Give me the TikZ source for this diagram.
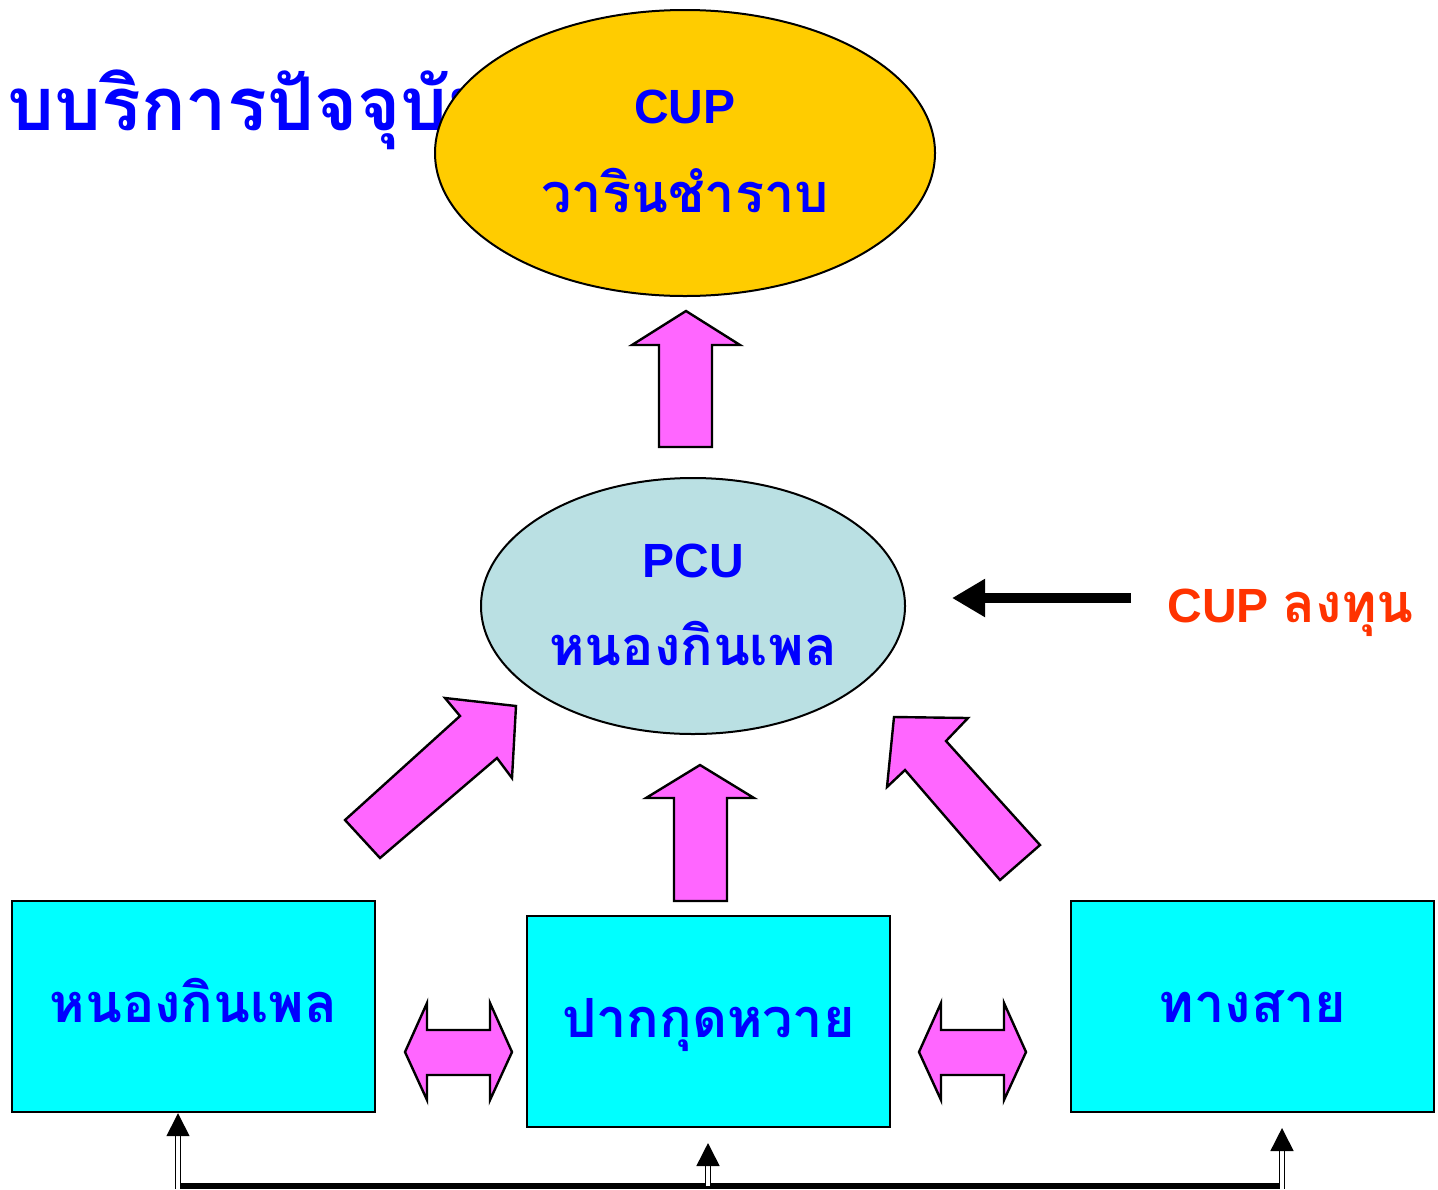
\documentclass[tikz,border=0pt]{standalone}
\usepackage{fontspec}
\setmainfont{Liberation Sans}
\newfontfamily\thai[Script=Thai]{Loma}
\usetikzlibrary{shapes.geometric,arrows.meta}
\definecolor{tblue}{HTML}{0000FF}
\definecolor{torange}{HTML}{FF3300}
\definecolor{gold}{HTML}{FFCC00}
\definecolor{pale}{HTML}{BAE0E3}
\definecolor{cyanbox}{HTML}{00FFFF}
\definecolor{pinkarrow}{HTML}{FF66FF}
\tikzset{
  blockarrow/.style={fill=pinkarrow,draw=black,line width=1.2pt,line join=miter},
  boxnode/.style={rectangle,draw=black,line width=1.2pt,fill=cyanbox,minimum width=181.5pt,minimum height=105.5pt,inner sep=0pt},
  ovalnode/.style={ellipse,draw=black,line width=1pt,inner sep=0pt},
  latinlbl/.style={text=tblue,font=\fontsize{24}{28}\selectfont\bfseries,anchor=base,inner sep=0pt},
  thailbl/.style={text=tblue,font=\thai\fontsize{27}{32}\selectfont\bfseries,anchor=base,inner sep=0pt},
  feed/.style={double=white,draw=black,line width=0.8pt,double distance=1.8pt,-{Triangle[length=11.5pt,width=11.5pt]}},
}
\begin{document}
\begin{tikzpicture}[x=0.5pt,y=-0.5pt]
\useasboundingbox (0,0) rectangle (1438,1189);
% title (partly covered by the ellipse)
\node[anchor=base west,inner sep=0pt,text=tblue,font=\thai\fontsize{37}{40}\selectfont\bfseries] (title) at (7,130) {บบริการปัจจุบัน};
% top ellipse
\node[ovalnode,fill=gold,minimum width=250pt,minimum height=143pt] (cup) at (685,153) {};
\node[latinlbl] (cupA) at (685,123) {CUP};
\node[thailbl] (cupB) at (685,212) {วารินชำราบ};
% arrow PCU -> CUP
\draw[blockarrow] (659,447) -- (659,345) -- (632,345) -- (686,311) -- (740,345) -- (712,345) -- (712,447) -- cycle;
% PCU ellipse
\node[ovalnode,fill=pale,minimum width=212pt,minimum height=128pt] (pcu) at (693,606) {};
\node[latinlbl] (pcuA) at (693,577) {PCU};
\node[thailbl] (pcuB) at (693,665) {หนองกินเพล};
% CUP invests
\coordinate (invtail) at (1131,598);
\coordinate (invtip) at (952,598);
\draw[line width=5pt,-{Triangle[length=16.5pt,width=18pt]}] (invtail) -- (invtip);
\node[anchor=base west,inner sep=0pt,text=torange,font=\fontsize{24}{28}\selectfont\bfseries] (invest) at (1167,622) {CUP {\thai\fontsize{27}{32}\selectfont ลงทุน}};
% diagonal and vertical block arrows to PCU
\draw[blockarrow] (345,820) -- (460,716) -- (445,698) -- (516,706) -- (512,778) -- (497,758) -- (380,858) -- cycle;
\draw[blockarrow] (674,901) -- (674,798) -- (646,798) -- (700,765) -- (754,798) -- (727,798) -- (727,901) -- cycle;
\draw[blockarrow] (1040,845) -- (946,741) -- (968,718) -- (894,717) -- (887,787) -- (905,770) -- (1000,880) -- cycle;
% boxes
\node[boxnode] (b1) at (193.5,1006.5) {};
\node[thailbl] (b1t) at (193.5,1022) {หนองกินเพล};
\node[boxnode] (b2) at (708.5,1021.5) {};
\node[thailbl] (b2t) at (708.5,1037) {ปากกุดหวาย};
\node[boxnode] (b3) at (1252.5,1006.5) {};
\node[thailbl] (b3t) at (1252.5,1022) {ทางสาย};
% double-headed block arrows
\draw[blockarrow] (405,1052) -- (427,1003) -- (427,1030) -- (490,1030) -- (490,1003) -- (512,1052) -- (490,1100) -- (490,1075) -- (427,1075) -- (427,1100) -- cycle;
\draw[blockarrow] (919,1052) -- (941,1003) -- (941,1030) -- (1004,1030) -- (1004,1003) -- (1026,1052) -- (1004,1100) -- (1004,1075) -- (941,1075) -- (941,1100) -- cycle;
% bottom link
\coordinate (l1) at (178,1189);
\coordinate (l2) at (708,1186);
\coordinate (l3) at (1282,1189);
\coordinate (t2) at (708,1143);
\coordinate (t3) at (1282,1128);
\draw[line width=2.8pt] (178,1186) -- (1282,1186);
\draw[feed] (l1) -- (b1.south -| l1);
\draw[feed] (l2) -- (t2);
\draw[feed] (l3) -- (t3);
\end{tikzpicture}
\end{document}
